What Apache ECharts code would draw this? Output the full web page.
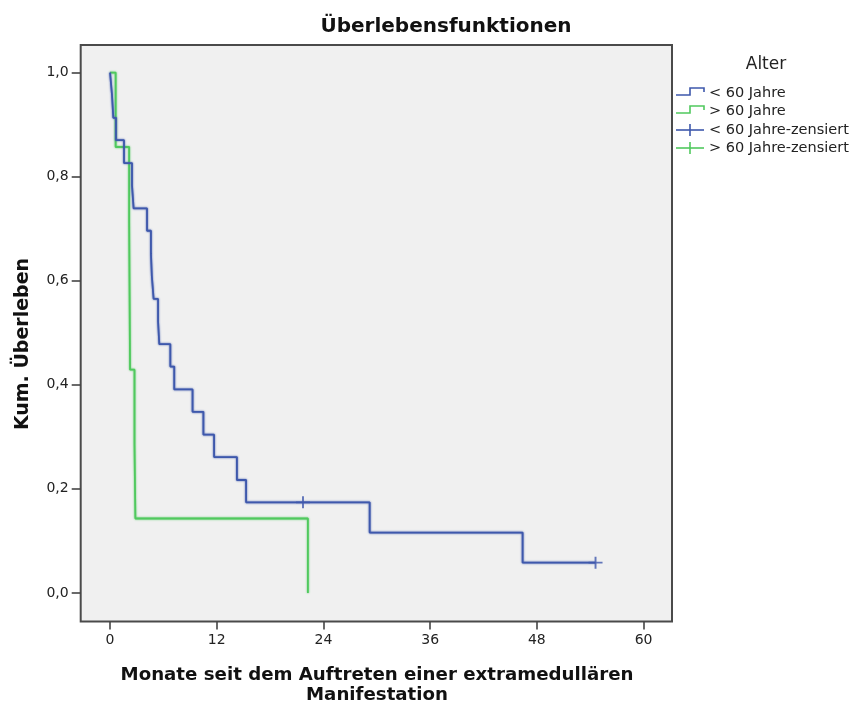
<!DOCTYPE html>
<html>
<head>
<meta charset="utf-8">
<script src="https://cdn.jsdelivr.net/npm/echarts@6/dist/echarts.min.js"></script>
<style>
  html, body { margin: 0; padding: 0; background: #ffffff; }
  #chart { width: 857px; height: 704px; }
</style>
</head>
<body>
<div id="chart"></div>
<script>
// Kaplan-Meier step data: event times (months) and survival after each event
const youngTimes = [0, 0.22, 0.37, 0.67, 1.57, 2.47, 2.65, 4.16, 4.6, 4.7, 4.9, 5.4, 5.54, 6.78, 7.22, 9.28, 10.5, 11.7, 14.27, 15.3, 29.2, 46.4, 54.6];
const youngSurv  = [1.0, 0.957, 0.913, 0.870, 0.826, 0.783, 0.739, 0.696, 0.652, 0.609, 0.565, 0.522, 0.478, 0.435, 0.391, 0.348, 0.304, 0.261, 0.217, 0.174, 0.116, 0.058, 0.058];
const oldTimes   = [0, 0.63, 2.15, 2.2, 2.25, 2.75, 2.85, 22.25];
const oldSurv    = [1.0, 0.857, 0.714, 0.571, 0.429, 0.286, 0.143, 0.0];

// censored observations
const youngCensTimes = [21.7, 54.6];
const youngCensSurv  = [0.174, 0.058];
const oldCensTimes   = [];
const oldCensSurv    = [];

// axis ticks
const xTicks = [0, 12, 24, 36, 48, 60];
const yTicks = [0, 0.2, 0.4, 0.6, 0.8, 1.0];

const groupNames = ['< 60 Jahre', '> 60 Jahre'];
const blue = '#3e58ac';
const green = '#50c95e';
const FONT = 'DejaVu Sans';

const zip = (a, b) => a.map((v, i) => [v, b[i]]);

const chart = echarts.init(document.getElementById('chart'));

const crossSymbol = 'path://M0,6 L14,6 M7,0 L7,12';

const legendItems = [];
function stepIcon(y, color) {
  return {
    type: 'polyline',
    shape: { points: [[676, y + 3], [690, y + 3], [690, y - 4], [704, y - 4], [704, y]] },
    style: { stroke: color, lineWidth: 1.6, fill: null }
  };
}
function crossIcon(y, color) {
  return [
    { type: 'line', shape: { x1: 676, y1: y, x2: 704, y2: y }, style: { stroke: color, lineWidth: 1.6 } },
    { type: 'line', shape: { x1: 690, y1: y - 6, x2: 690, y2: y + 6 }, style: { stroke: color, lineWidth: 1.6 } }
  ];
}
function legendText(y, text) {
  return {
    type: 'text', x: 709, y: y,
    style: { text: text, font: '14.5px "' + FONT + '"', fill: '#222', textVerticalAlign: 'middle' }
  };
}
legendItems.push(
  { type: 'text', x: 766, y: 65, style: { text: 'Alter', font: '17px "' + FONT + '"', fill: '#222', textAlign: 'center', textVerticalAlign: 'middle' } },
  stepIcon(92, blue), legendText(93, groupNames[0]),
  stepIcon(110, green), legendText(111, groupNames[1]),
  ...crossIcon(130, blue), legendText(130, groupNames[0] + '-zensiert'),
  ...crossIcon(148, green), legendText(148, groupNames[1] + '-zensiert')
);

const fmt = v => v.toFixed(1).replace('.', ',');
const lineFx = c => ({ color: c, width: 1.8, shadowColor: c, shadowBlur: 2 });

chart.setOption({
  animation: false,
  backgroundColor: '#ffffff',
  textStyle: { fontFamily: FONT },
  grid: {
    left: 80.7, top: 45, right: 185, bottom: 82.5,
    show: true, backgroundColor: '#f0f0f0', borderColor: '#4a4a4a', borderWidth: 2
  },
  xAxis: {
    type: 'value', min: -3.3, max: 63.2,
    axisLine: { show: false, onZero: false },
    splitLine: { show: false },
    axisTick: { show: true, inside: false, length: 8, lineStyle: { color: '#444', width: 1.6 }, customValues: xTicks },
    axisLabel: { customValues: xTicks, color: '#222', fontSize: 14, fontFamily: FONT, margin: 12 }
  },
  yAxis: {
    type: 'value', min: -0.055, max: 1.053,
    axisLine: { show: false, onZero: false },
    splitLine: { show: false },
    axisTick: { show: true, inside: false, length: 9, lineStyle: { color: '#444', width: 1.6 }, customValues: yTicks },
    axisLabel: { customValues: yTicks, formatter: fmt, color: '#222', fontSize: 14, fontFamily: FONT, margin: 12 }
  },
  graphic: [
    { type: 'text', x: 446, y: 27, style: { text: 'Überlebensfunktionen', font: 'bold 20px "' + FONT + '"', fill: '#111', textAlign: 'center', textVerticalAlign: 'middle' } },
    { type: 'text', x: 377, y: 675, style: { text: 'Monate seit dem Auftreten einer extramedullären', font: 'bold 18.2px "' + FONT + '"', fill: '#111', textAlign: 'center', textVerticalAlign: 'middle' } },
    { type: 'text', x: 377, y: 695, style: { text: 'Manifestation', font: 'bold 18.2px "' + FONT + '"', fill: '#111', textAlign: 'center', textVerticalAlign: 'middle' } },
    { type: 'text', x: 23, y: 344, rotation: Math.PI / 2, style: { text: 'Kum. Überleben', font: 'bold 19px "' + FONT + '"', fill: '#111', textAlign: 'center', textVerticalAlign: 'middle' } },
    ...legendItems
  ],
  series: [
    {
      name: groupNames[0], type: 'line', step: 'end', data: zip(youngTimes, youngSurv),
      showSymbol: false, lineStyle: lineFx(blue), itemStyle: { color: blue }, z: 3
    },
    {
      name: groupNames[1], type: 'line', step: 'end', data: zip(oldTimes, oldSurv),
      showSymbol: false, lineStyle: lineFx(green), itemStyle: { color: green }, z: 2
    },
    {
      name: groupNames[0] + '-zensiert', type: 'scatter', data: zip(youngCensTimes, youngCensSurv),
      symbol: crossSymbol, symbolSize: [14, 12],
      itemStyle: { color: 'rgba(0,0,0,0)', borderColor: blue, borderWidth: 1.8 }, z: 4
    },
    {
      name: groupNames[1] + '-zensiert', type: 'scatter', data: zip(oldCensTimes, oldCensSurv),
      symbol: crossSymbol, symbolSize: [14, 12],
      itemStyle: { color: 'rgba(0,0,0,0)', borderColor: green, borderWidth: 1.8 }, z: 4
    }
  ]
});
</script>
</body>
</html>
